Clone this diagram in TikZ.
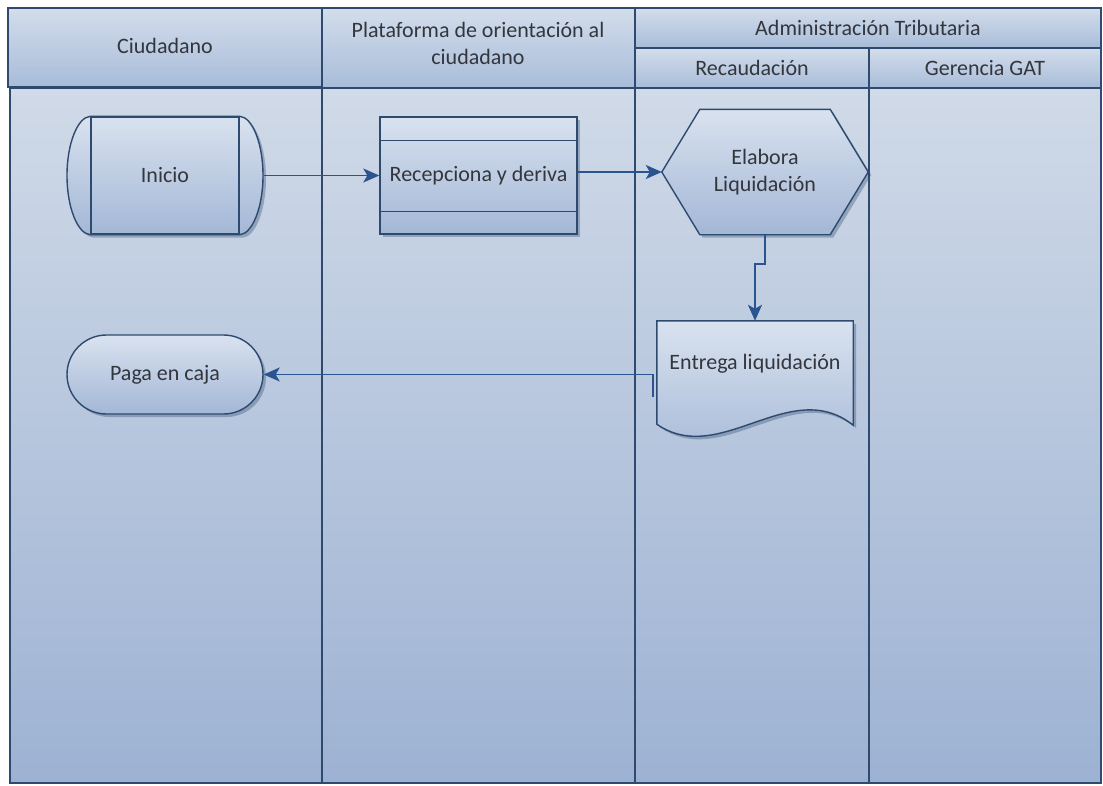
\documentclass[tikz,border=0pt]{standalone}
\usepackage{fontspec}
\setmainfont{Carlito}
\usetikzlibrary{arrows.meta,shapes.misc,shadows,calc}

\definecolor{edge}{HTML}{2E4A6E}
\definecolor{flow}{HTML}{2A5490}
\definecolor{txt}{HTML}{33363C}
\definecolor{headtop}{HTML}{D3DDEB}
\definecolor{headbot}{HTML}{A8BCD9}
\definecolor{lanetop}{HTML}{D0DAE8}
\definecolor{lanebot}{HTML}{9DB2D3}
\definecolor{boxtop}{HTML}{D9E2EF}
\definecolor{boxbot}{HTML}{A3B7D6}

\pgfdeclarelayer{lanes}
\pgfdeclarelayer{bodies}
\pgfsetlayers{lanes,bodies,main}

\tikzset{
  lbl/.style={font=\fontsize{22}{27.5}\selectfont, text=txt, align=center, inner sep=0pt},
  head/.style={draw=edge, line width=1.2pt, top color=headtop, bottom color=headbot},
  lane/.style={draw=edge, line width=1.2pt, top color=lanetop, bottom color=lanebot},
  shadowed/.style={drop shadow={shadow xshift=3pt, shadow yshift=-3pt, opacity=0.35, fill=edge}},
  body/.style={draw=edge, line width=1.4pt, top color=boxtop, bottom color=boxbot, shadowed},
  conn/.style={draw=flow, line width=1.8pt, -{Stealth[length=16pt,width=14pt,inset=4pt]}}
}

\begin{document}
\begin{tikzpicture}[x=1pt,y=-1pt]
\useasboundingbox (0,0) rectangle (1103,785);

% swimlanes and their headers
\begin{pgfonlayer}{lanes}
  \fill[white] (0,0) rectangle (1103,785);
  \draw[lane] (10,88) rectangle (322,783);
  \draw[lane] (322,88) rectangle (635,783);
  \draw[lane] (635,88) rectangle (869,783);
  \draw[lane] (869,88) rectangle (1101,783);
  \draw[head] (8,8) rectangle (322,87);
  \draw[head] (322,8) rectangle (635,88);
  \draw[head] (635,8) rectangle (1101,48);
  \draw[head] (635,48) rectangle (869,88);
  \draw[head] (869,48) rectangle (1101,88);
\end{pgfonlayer}

\node[lbl] (hciu) at (165,46) {Ciudadano};
\node[lbl] (hpla) at (478,43.5) {Plataforma de orientación al\\ciudadano};
\node[lbl] (hadm) at (868,28) {Administración Tributaria};
\node[lbl] (hrec) at (752,68) {Recaudación};
\node[lbl] (hger) at (985,68) {Gerencia GAT};

% start: rectangle with elliptic ends
\node[lbl, draw=edge, line width=1.4pt, minimum width=148pt, minimum height=117pt] (inicio) at (165,175.5) {Inicio};
\begin{pgfonlayer}{bodies}
  \path[body] (inicio.north west) .. controls (77.8,117) and (67,143.2) .. (67,175.5)
    .. controls (67,207.8) and (77.8,234) .. (inicio.south west) -- (inicio.south east)
    .. controls (252.2,234) and (263,207.8) .. (263,175.5)
    .. controls (263,143.2) and (252.2,117) .. (inicio.north east) -- cycle;
\end{pgfonlayer}

% receiving step
\node[lbl, body, minimum width=197pt, minimum height=117pt] (rec) at (478.5,175.5) {Recepciona y deriva};
\draw[edge, line width=1.4pt] ([yshift=-24pt]rec.north west) -- ([yshift=-24pt]rec.north east);
\draw[edge, line width=1.4pt] ([yshift=23pt]rec.south west) -- ([yshift=23pt]rec.south east);

% preparation hexagon
\node[lbl, minimum width=206pt, minimum height=125pt] (elab) at (765,172) {Elabora\\Liquidación};
\begin{pgfonlayer}{bodies}
  \path[body] (elab.west) -- ([xshift=38pt]elab.north west) -- ([xshift=-38pt]elab.north east)
    -- (elab.east) -- ([xshift=-38pt]elab.south east) -- ([xshift=38pt]elab.south west) -- cycle;
\end{pgfonlayer}

% document
\node[lbl, minimum width=196pt, minimum height=86pt] (doc) at (755,364) {Entrega liquidación};
\begin{pgfonlayer}{bodies}
  \path[body] (doc.north west) -- (doc.north east) -- ([yshift=-18pt]doc.south east)
    .. controls (790,375) and (720,468) .. ([yshift=-17pt]doc.south west) -- cycle;
\end{pgfonlayer}

% terminator
\node[lbl, body, rounded rectangle, minimum width=196pt, minimum height=79pt] (paga) at (165,374.5) {Paga en caja};

% connectors
\draw[conn] ([xshift=24pt]inicio.east) -- (rec.west);
\draw[conn] (rec.east |- elab.west) -- (elab.west);
\draw[conn] (elab.south) -- ++(0,29) -| (doc.north);
\coordinate (stub) at (653,397);
\draw[conn] (stub) |- (paga.east);
\end{tikzpicture}
\end{document}
